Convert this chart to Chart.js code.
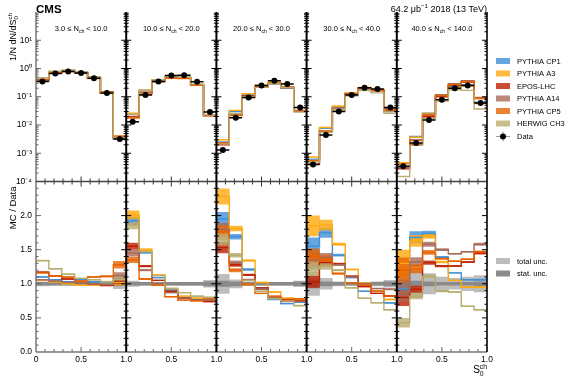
<!DOCTYPE html>
<html><head><meta charset="utf-8">
<script src="https://cdn.jsdelivr.net/npm/chart.js@4.4.1/dist/chart.umd.min.js"></script>
<style>html,body{margin:0;padding:0;background:#fff;}#wrap{width:580px;height:380px;position:relative;}</style>
</head><body><div id="wrap"><canvas id="c" width="580" height="380"></canvas></div>
<script>
// ---------------- data ----------------
const nchLow  = ['3.0', '10.0', '20.0', '30.0', '40.0'];
const nchHigh = ['10.0', '20.0', '30.0', '40.0', '140.0'];
const nBins = 7;
const mcNames  = ['PYTHIA CP1', 'PYTHIA A3', 'EPOS-LHC', 'PYTHIA A14', 'PYTHIA CP5', 'HERWIG CH3'];
const mcColors = ['#3f90da', '#ffa90e', '#bd1f01', '#a96b59', '#e76300', '#b9ac70'];

const dataTop = [0.35, 0.66, 0.78, 0.70, 0.45, 0.135, 0.0032,
  0.013, 0.115, 0.35, 0.56, 0.58, 0.34, 0.029,
  0.0013, 0.018, 0.095, 0.25, 0.37, 0.28, 0.042,
  0.0004, 0.0044, 0.030, 0.115, 0.21, 0.19, 0.042,
  0.00035, 0.0023, 0.015, 0.079, 0.20, 0.25, 0.060];

const cp1Top = [0.385, 0.70, 0.80, 0.74, 0.46, 0.136, 0.0033,
  0.025, 0.168, 0.38, 0.51, 0.46, 0.26, 0.022,
  0.0025, 0.030, 0.115, 0.235, 0.285, 0.20, 0.031,
  0.00062, 0.0077, 0.043, 0.125, 0.187, 0.169, 0.030,
  0.00032, 0.0039, 0.026, 0.110, 0.232, 0.265, 0.064];
const a3Top = [0.37, 0.68, 0.78, 0.69, 0.44, 0.134, 0.0033,
  0.026, 0.17, 0.40, 0.52, 0.48, 0.27, 0.023,
  0.0030, 0.033, 0.127, 0.255, 0.326, 0.22, 0.032,
  0.00074, 0.0082, 0.047, 0.139, 0.212, 0.169, 0.032,
  0.00046, 0.0037, 0.0255, 0.104, 0.21, 0.238, 0.057];
const eposTop = [0.41, 0.73, 0.83, 0.71, 0.45, 0.132, 0.0033,
  0.020, 0.145, 0.37, 0.50, 0.46, 0.26, 0.021,
  0.0020, 0.023, 0.107, 0.235, 0.296, 0.216, 0.0315,
  0.00041, 0.0058, 0.039, 0.128, 0.20, 0.163, 0.034,
  0.00028, 0.0021, 0.0197, 0.10, 0.252, 0.33, 0.087];
const a14Top = [0.37, 0.69, 0.80, 0.71, 0.45, 0.134, 0.0036,
  0.019, 0.138, 0.35, 0.49, 0.46, 0.26, 0.022,
  0.0023, 0.024, 0.10, 0.23, 0.296, 0.207, 0.031,
  0.00054, 0.0061, 0.038, 0.127, 0.21, 0.177, 0.039,
  0.00031, 0.0030, 0.0237, 0.119, 0.288, 0.37, 0.095];
const cp5Top = [0.41, 0.73, 0.86, 0.73, 0.50, 0.15, 0.0041,
  0.0176, 0.123, 0.34, 0.45, 0.44, 0.255, 0.0226,
  0.0023, 0.0216, 0.094, 0.215, 0.303, 0.213, 0.033,
  0.00056, 0.0060, 0.0345, 0.116, 0.206, 0.169, 0.034,
  0.00042, 0.0028, 0.022, 0.108, 0.266, 0.34, 0.088];
const herwigTop = [0.47, 0.80, 0.89, 0.76, 0.48, 0.139, 0.0034,
  0.024, 0.169, 0.39, 0.52, 0.50, 0.28, 0.023,
  0.0021, 0.0256, 0.10, 0.22, 0.29, 0.21, 0.0286,
  0.00049, 0.0055, 0.036, 0.108, 0.166, 0.137, 0.026,
  0.00015, 0.0019, 0.0167, 0.070, 0.176, 0.168, 0.037];

const cp1Ratio = [1.10, 1.06, 1.03, 1.06, 1.03, 1.01, 1.03,
  1.92, 1.46, 1.09, 0.91, 0.80, 0.77, 0.76,
  1.95, 1.69, 1.21, 0.94, 0.77, 0.71, 0.73,
  1.55, 1.75, 1.42, 1.09, 0.89, 0.89, 0.72,
  0.92, 1.68, 1.74, 1.39, 1.16, 1.06, 1.06];
const a3Ratio = [1.05, 1.03, 1.00, 0.98, 0.98, 0.99, 1.02,
  2.01, 1.50, 1.13, 0.93, 0.82, 0.79, 0.79,
  2.28, 1.81, 1.34, 1.02, 0.88, 0.79, 0.76,
  1.85, 1.86, 1.58, 1.21, 1.01, 0.89, 0.77,
  1.30, 1.63, 1.70, 1.32, 1.05, 0.95, 0.95];
const eposRatio = [1.17, 1.11, 1.07, 1.02, 1.00, 0.98, 1.04,
  1.55, 1.26, 1.05, 0.89, 0.79, 0.76, 0.74,
  1.53, 1.28, 1.13, 0.94, 0.80, 0.77, 0.75,
  1.03, 1.31, 1.29, 1.11, 0.96, 0.86, 0.82,
  0.80, 0.92, 1.31, 1.26, 1.26, 1.32, 1.45];
const a14Ratio = [1.06, 1.04, 1.02, 1.02, 1.00, 0.99, 1.12,
  1.45, 1.20, 1.00, 0.87, 0.79, 0.76, 0.76,
  1.80, 1.31, 1.06, 0.92, 0.80, 0.74, 0.74,
  1.35, 1.39, 1.28, 1.10, 1.00, 0.93, 0.92,
  0.88, 1.32, 1.58, 1.50, 1.44, 1.47, 1.58];
const cp5Ratio = [1.16, 1.11, 1.10, 1.04, 1.10, 1.11, 1.28,
  1.35, 1.07, 0.98, 0.81, 0.76, 0.75, 0.78,
  1.76, 1.20, 0.99, 0.86, 0.82, 0.76, 0.78,
  1.40, 1.36, 1.15, 1.01, 0.98, 0.89, 0.82,
  1.20, 1.22, 1.46, 1.37, 1.33, 1.36, 1.47];
const herwigRatio = [1.34, 1.22, 1.14, 1.08, 1.06, 1.03, 1.06,
  1.86, 1.47, 1.12, 0.93, 0.87, 0.82, 0.80,
  1.65, 1.42, 1.05, 0.89, 0.78, 0.75, 0.68,
  1.22, 1.26, 1.20, 0.94, 0.79, 0.72, 0.62,
  0.43, 0.82, 1.11, 0.89, 0.88, 0.67, 0.62];

const mcRelUnc = [0.005, 0.005, 0.005, 0.005, 0.005, 0.01, 0.04,
  0.03, 0.01, 0.005, 0.005, 0.005, 0.005, 0.01,
  0.05, 0.02, 0.01, 0.005, 0.005, 0.005, 0.01,
  0.08, 0.04, 0.01, 0.005, 0.005, 0.005, 0.01,
  0.15, 0.05, 0.02, 0.01, 0.005, 0.005, 0.01];
const totUnc = [0.03, 0.02, 0.02, 0.02, 0.02, 0.03, 0.07,
  0.04, 0.02, 0.02, 0.02, 0.02, 0.02, 0.05,
  0.14, 0.06, 0.02, 0.02, 0.02, 0.02, 0.04,
  0.17, 0.08, 0.03, 0.02, 0.02, 0.03, 0.05,
  0.18, 0.20, 0.15, 0.10, 0.08, 0.10, 0.12];
const statUnc = [0.02, 0.02, 0.02, 0.02, 0.02, 0.02, 0.03,
  0.02, 0.02, 0.02, 0.02, 0.02, 0.02, 0.03,
  0.04, 0.03, 0.02, 0.02, 0.02, 0.02, 0.03,
  0.06, 0.03, 0.02, 0.02, 0.02, 0.02, 0.03,
  0.05, 0.04, 0.03, 0.02, 0.02, 0.02, 0.03];

// ---------------- helpers ----------------
const FONT = '"Liberation Sans", Arial, Helvetica, sans-serif';
const nPanels = nchLow.length;
function hexA(hex, a) { const n = parseInt(hex.slice(1), 16); return `rgba(${n >> 16},${(n >> 8) & 255},${n & 255},${a})`; }
const lo = k => Math.floor(k / nBins) + (k % nBins) / nBins;
const hi = k => Math.floor(k / nBins) + (k % nBins + 1) / nBins;
const ctr = k => (lo(k) + hi(k)) / 2;
function stepPts(vals) {
  const pts = [];
  vals.forEach((v, k) => {
    pts.push({x: lo(k), y: v}, {x: hi(k), y: v});
    if (k % nBins === nBins - 1) pts.push({x: hi(k), y: null});
  });
  return pts;
}
function segPts(vals) {
  const pts = [];
  vals.forEach((v, k) => pts.push({x: lo(k), y: v}, {x: hi(k), y: v}, {x: hi(k), y: null}));
  return pts;
}
function bandPts(center, half) { return center.map((c, k) => ({x: ctr(k), y: [c - half[k], c + half[k]]})); }

const mcs = [
  {top: cp1Top, ratio: cp1Ratio}, {top: a3Top, ratio: a3Ratio}, {top: eposTop, ratio: eposRatio},
  {top: a14Top, ratio: a14Ratio}, {top: cp5Top, ratio: cp5Ratio}, {top: herwigTop, ratio: herwigRatio}
];

const ds = [];
const barBase = {type: 'bar', yAxisID: 'yr', xAxisID: 'x', grouped: false, barPercentage: 1, categoryPercentage: 1, borderWidth: 0};
ds.push(Object.assign({}, barBase, {label: 'total unc.', data: bandPts(dataTop.map(() => 1), totUnc), backgroundColor: '#bdbdbd'}));
ds.push(Object.assign({}, barBase, {label: 'stat. unc.', data: bandPts(dataTop.map(() => 1), statUnc), backgroundColor: '#8a8a8a'}));
mcs.forEach((m, j) => {
  ds.push(Object.assign({}, barBase, {label: mcNames[j] + ' unc', data: m.ratio.map((r, k) => ({x: ctr(k), y: [r * (1 - mcRelUnc[k]), r * (1 + mcRelUnc[k])]})), backgroundColor: hexA(mcColors[j], 0.8)}));
});
const lineBase = {type: 'line', pointRadius: 0, borderWidth: 1.4, fill: false, tension: 0, spanGaps: false};
mcs.forEach((m, j) => ds.push(Object.assign({}, lineBase, {label: mcNames[j] + ' ratio', yAxisID: 'yr', data: stepPts(m.ratio), borderColor: mcColors[j]})));
mcs.forEach((m, j) => ds.push(Object.assign({}, lineBase, {label: mcNames[j], yAxisID: 'yt', data: stepPts(m.top), borderColor: mcColors[j]})));
ds.push(Object.assign({}, lineBase, {label: 'Data xerr', yAxisID: 'yt', data: segPts(dataTop), borderColor: '#000', borderWidth: 1.5}));
ds.push({type: 'line', label: 'Data', yAxisID: 'yt', showLine: false, data: dataTop.map((v, k) => ({x: ctr(k), y: v})), pointRadius: 3, pointBackgroundColor: '#000', pointBorderColor: '#000', pointBorderWidth: 0});
ds.forEach((d, i) => { d.order = 1000 - i; });

const supMap = {'-': '\u207B', '0': '\u2070', '1': '\u00B9', '2': '\u00B2', '3': '\u00B3', '4': '\u2074'};
const sup = s => s.split('').map(c => supMap[c] || c).join('');

// rich text: parts [{t}, {sub}, {sup}, {lo, hi}]
function richDraw(ctx, parts, x, y, size, align, bold) {
  const small = size * 0.68;
  const fN = `${bold ? 'bold ' : ''}${size}px ${FONT}`, fS = `${small}px ${FONT}`;
  const widths = parts.map(p => {
    if (p.t !== undefined) { ctx.font = fN; return ctx.measureText(p.t).width; }
    ctx.font = fS;
    if (p.sub !== undefined) return ctx.measureText(p.sub).width;
    if (p.sup !== undefined) return ctx.measureText(p.sup).width;
    return Math.max(ctx.measureText(p.lo).width, ctx.measureText(p.hi).width);
  });
  const w = widths.reduce((a, b) => a + b, 0);
  let cx = align === 'right' ? x - w : align === 'center' ? x - w / 2 : x;
  ctx.textAlign = 'left'; ctx.textBaseline = 'alphabetic';
  parts.forEach((p, i) => {
    if (p.t !== undefined) { ctx.font = fN; ctx.fillText(p.t, cx, y); }
    else {
      ctx.font = fS;
      if (p.sub !== undefined) ctx.fillText(p.sub, cx, y + size * 0.22);
      else if (p.sup !== undefined) ctx.fillText(p.sup, cx, y - size * 0.42);
      else { ctx.fillText(p.lo, cx, y + size * 0.25); ctx.fillText(p.hi, cx, y - size * 0.42); }
    }
    cx += widths[i];
  });
}

const decor = {
  id: 'decor',
  afterDatasetsDraw(chart) {
    const ctx = chart.ctx, ca = chart.chartArea, sx = chart.scales.x, yt = chart.scales.yt, yr = chart.scales.yr;
    const X = v => sx.getPixelForValue(v);
    const yMid = yr.top;
    const seg = (x1, y1, x2, y2, c, w) => { ctx.beginPath(); ctx.strokeStyle = c; ctx.lineWidth = w; ctx.moveTo(x1, y1); ctx.lineTo(x2, y2); ctx.stroke(); };
    ctx.save();
    // x ticks
    for (let i = 1; i < nPanels * 10; i++) {
      if (i % 10 === 0) continue;
      const px = X(i / 10);
      const L = i % 5 === 0 ? 5 : 3;
      seg(px, ca.bottom, px, ca.bottom - L, '#666', 1);
      seg(px, yMid - L, px, yMid + L, '#333', 1);
    }
    // frame
    seg(ca.left, ca.top, ca.left, ca.bottom, '#777', 1.5);
    seg(ca.left, ca.bottom, ca.right, ca.bottom, '#777', 1.5);
    seg(ca.left, yMid, ca.right, yMid, '#444', 1.3);
    for (let k = 1; k <= nPanels; k++) seg(X(k), ca.top, X(k), ca.bottom, '#000', k < nPanels ? 2 : 1.6);
    // y ticks on every panel edge
    const tickY = [];
    for (let e = -4; e <= 1; e++) for (let m = 1; m <= 9; m++) { if (e === -4 && m === 1) continue; tickY.push({py: yt.getPixelForValue(m * Math.pow(10, e)), L: m === 1 ? 5 : 2.5}); }
    for (let i = 1; i < 25; i++) tickY.push({py: yr.getPixelForValue(i / 10), L: i % 5 === 0 ? 5 : 2.5});
    for (let k = 0; k <= nPanels; k++) {
      const px = X(k);
      const col = k === 0 ? '#666' : '#000';
      tickY.forEach(t => seg(px - (k > 0 ? t.L : 0), t.py, px + (k < nPanels ? t.L : 0), t.py, col, 1));
    }
    ctx.restore();
  },
  afterDraw(chart) {
    const ctx = chart.ctx, ca = chart.chartArea, sx = chart.scales.x, yr = chart.scales.yr;
    ctx.save();
    ctx.fillStyle = '#000';
    richDraw(ctx, [{t: 'CMS'}], 36, 12.5, 11.5, 'left', true);
    richDraw(ctx, [{t: '64.2 \u03BCb'}, {sup: '\u22121'}, {t: ' 2018 (13 TeV)'}], ca.right, 12, 9, 'right');
    for (let p = 0; p < nPanels; p++) {
      richDraw(ctx, [{t: nchLow[p] + ' \u2264 N'}, {sub: 'ch'}, {t: ' < ' + nchHigh[p]}], sx.getPixelForValue(p + 0.5), 31, 7.5, 'center');
    }
    // axis titles
    ctx.save(); ctx.translate(16, ca.top + 1); ctx.rotate(-Math.PI / 2);
    richDraw(ctx, [{t: '1/N dN/dS'}, {lo: '0', hi: 'ch'}], 0, 0, 9, 'right');
    ctx.restore();
    ctx.save(); ctx.translate(16, yr.top + 5); ctx.rotate(-Math.PI / 2);
    richDraw(ctx, [{t: 'MC / Data'}], 0, 0, 9.5, 'right');
    ctx.restore();
    richDraw(ctx, [{t: 'S'}, {lo: '0', hi: 'ch'}], ca.right, 373, 10, 'right');
    // legend
    const rows = [61, 73.5, 86, 98.5, 111, 123.5];
    mcNames.forEach((n, j) => {
      ctx.fillStyle = hexA(mcColors[j], 0.8);
      ctx.fillRect(496, rows[j] - 3, 14, 6);
      ctx.fillStyle = '#000';
      richDraw(ctx, [{t: n}], 517, rows[j] + 2.8, 7.5, 'left');
    });
    const dy = 136.5;
    ctx.strokeStyle = '#999'; ctx.lineWidth = 1;
    ctx.beginPath(); ctx.moveTo(496, dy); ctx.lineTo(510, dy); ctx.moveTo(503, dy - 5); ctx.lineTo(503, dy + 5); ctx.stroke();
    ctx.fillStyle = '#000'; ctx.beginPath(); ctx.arc(503, dy, 3, 0, Math.PI * 2); ctx.fill();
    richDraw(ctx, [{t: 'Data'}], 517, dy + 2.8, 7.5, 'left');
    [['total unc.', '#bdbdbd', 261], ['stat. unc.', '#8a8a8a', 273.5]].forEach(([n, c, y]) => {
      ctx.fillStyle = c; ctx.fillRect(496, y - 3, 14, 6);
      ctx.fillStyle = '#000'; richDraw(ctx, [{t: n}], 517, y + 2.8, 7.5, 'left');
    });
    ctx.restore();
  }
};

Chart.defaults.font.family = FONT;
new Chart(document.getElementById('c'), {
  type: 'line',
  data: {datasets: ds},
  options: {
    responsive: false, animation: false, devicePixelRatio: 1, events: [],
    layout: {padding: {left: 0, right: 93, top: 12, bottom: 0}},
    plugins: {legend: {display: false}, tooltip: {enabled: false}},
    scales: {
      x: {type: 'linear', min: 0, max: nPanels, offset: false, position: 'bottom',
        grid: {display: false, drawTicks: false}, border: {display: false},
        ticks: {stepSize: 0.5, autoSkip: false, maxRotation: 0, padding: 3, color: '#000', font: {size: 8.5},
          callback: v => { const r = Math.round(v * 10); return r === 0 ? '0' : (r % 10 === 0 ? '1.0' : '0.5'); }},
        afterFit: s => { s.height = 28; }},
      yr: {type: 'linear', position: 'left', stack: 'v', stackWeight: 170.5, min: 0, max: 2.5,
        grid: {display: false, drawTicks: false}, border: {display: false},
        ticks: {stepSize: 0.5, autoSkip: false, padding: 4, color: '#000', font: {size: 8.5},
          callback: v => v > 2.4 ? '' : v.toFixed(1)},
        afterFit: s => { s.width = 36; }},
      yt: {type: 'logarithmic', position: 'left', stack: 'v', stackWeight: 169.5, min: 1e-4, max: 1e2,
        grid: {display: false, drawTicks: false}, border: {display: false},
        ticks: {autoSkip: false, padding: 4, color: '#000', font: {size: 8.5},
          callback: v => { const l = Math.log10(v); const r = Math.round(l); return (Math.abs(l - r) < 1e-6 && r <= 1 && r >= -4) ? '10' + sup(String(r)) : ''; }},
        afterFit: s => { s.width = 36; }}
    }
  },
  plugins: [decor]
});
</script></body></html>
